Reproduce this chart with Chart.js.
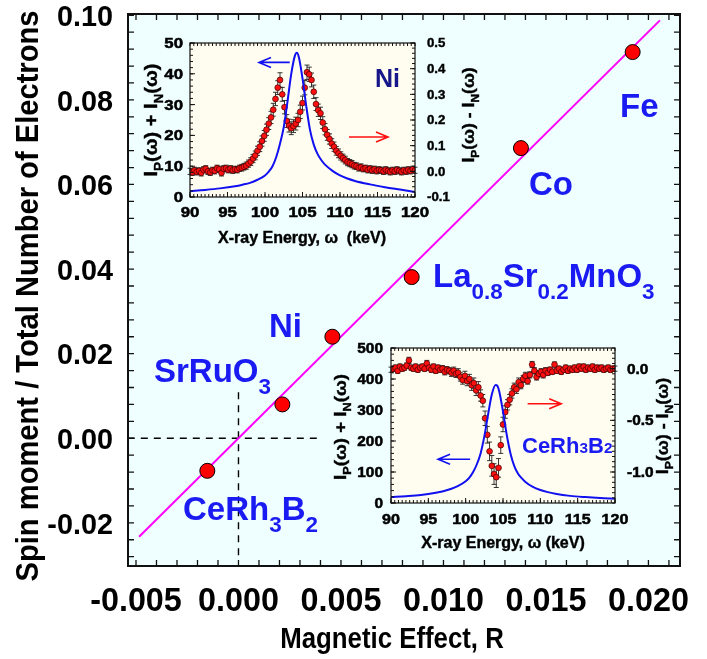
<!DOCTYPE html>
<html>
<head>
<meta charset="utf-8">
<title>Spin moment vs magnetic effect</title>
<script src="https://cdn.jsdelivr.net/npm/chart.js@4.4.1/dist/chart.umd.min.js"></script>
<style>
  html, body { margin: 0; padding: 0; background: #ffffff; }
  #stage { position: relative; width: 707px; height: 659px; overflow: hidden; }
  #stage canvas { position: absolute; }
</style>
</head>
<body>
<div id="stage">
  <canvas id="mainChart" width="707" height="659" style="left:0;top:0"></canvas>
  <canvas id="niChart" width="362" height="222" style="left:120px;top:30px"></canvas>
  <canvas id="ceChart" width="352" height="226" style="left:330px;top:335px"></canvas>
</div>
<script>
// ---- main plot data ----
const materials = ["CeRh3B2", "SrRuO3", "Ni", "La0.8Sr0.2MnO3", "Co", "Fe"];
const magneticEffect = [-0.00152, 0.00214, 0.00458, 0.00845, 0.01378, 0.01923];
const spinPerElectron = [-0.0077, 0.0080, 0.0240, 0.0381, 0.0686, 0.0913];
const fitR = [-0.00485, 0.02056];
const fitSpin = [-0.0233, 0.0988];
const zeroLineR = [-0.0054, 0.0040];
const zeroLineSpin = [0.0109, -0.0290];
const xTicks = [-0.005, 0, 0.005, 0.010, 0.015, 0.020];
const yTicks = [-0.02, 0, 0.02, 0.04, 0.06, 0.08, 0.10];

// ---- inset data (shared energy grid, keV) ----
const energyKeV = [
  90.0, 90.3, 90.6, 90.9, 91.2, 91.5, 91.8, 92.1, 92.4, 92.7,
  93.0, 93.3, 93.6, 93.9, 94.2, 94.5, 94.8, 95.1, 95.4, 95.7,
  96.0, 96.3, 96.6, 96.9, 97.2, 97.5, 97.8, 98.1, 98.4, 98.7,
  99.0, 99.3, 99.6, 99.9, 100.2, 100.5, 100.8, 101.1, 101.4, 101.7,
  102.0, 102.3, 102.6, 102.9, 103.2, 103.5, 103.8, 104.1, 104.4, 104.7,
  105.0, 105.3, 105.6, 105.9, 106.2, 106.5, 106.8, 107.1, 107.4, 107.7,
  108.0, 108.3, 108.6, 108.9, 109.2, 109.5, 109.8, 110.1, 110.4, 110.7,
  111.0, 111.3, 111.6, 111.9, 112.2, 112.5, 112.8, 113.1, 113.4, 113.7,
  114.0, 114.3, 114.6, 114.9, 115.2, 115.5, 115.8, 116.1, 116.4, 116.7,
  117.0, 117.3, 117.6, 117.9, 118.2, 118.5, 118.8, 119.1, 119.4, 119.7,
  120.0
];
// Ni: I_P - I_N (right axis)
const niDiff = [
  0.000, -0.004, 0.004, -0.002, 0.002, -0.006, 0.006, 0.010, 0.000, -0.004,
  0.004, 0.002, 0.012, 0.008, -0.006, 0.010, 0.012, 0.006, 0.010, 0.004,
  0.008, 0.006, 0.012, 0.014, 0.018, 0.022, 0.030, 0.038, 0.050, 0.062,
  0.080, 0.096, 0.118, 0.138, 0.162, 0.186, 0.210, 0.240, 0.282, 0.326,
  0.356, 0.300, 0.250, 0.196, 0.178, 0.168, 0.176, 0.186, 0.200, 0.232,
  0.266, 0.326, 0.386, 0.378, 0.356, 0.310, 0.262, 0.238, 0.226, 0.190,
  0.164, 0.142, 0.126, 0.108, 0.096, 0.080, 0.070, 0.060, 0.052, 0.044,
  0.036, 0.032, 0.028, 0.022, 0.020, 0.014, 0.016, 0.010, 0.012, 0.006,
  0.010, 0.004, 0.008, 0.002, 0.006, 0.004, 0.000, 0.006, 0.002, -0.002,
  0.004, 0.000, 0.006, 0.002, -0.002, 0.004, 0.000, 0.006, 0.002, 0.008,
  0.004
];
const niDiffErr = [
  0.012, 0.012, 0.012, 0.012, 0.012, 0.012, 0.012, 0.012, 0.012, 0.012,
  0.012, 0.012, 0.012, 0.012, 0.012, 0.012, 0.012, 0.012, 0.012, 0.012,
  0.012, 0.012, 0.012, 0.013, 0.013, 0.014, 0.014, 0.015, 0.016, 0.017,
  0.018, 0.019, 0.020, 0.021, 0.022, 0.023, 0.024, 0.025, 0.026, 0.027,
  0.028, 0.027, 0.026, 0.025, 0.025, 0.025, 0.025, 0.025, 0.026, 0.026,
  0.027, 0.028, 0.028, 0.028, 0.027, 0.026, 0.025, 0.024, 0.024, 0.023,
  0.022, 0.021, 0.020, 0.019, 0.018, 0.017, 0.017, 0.016, 0.015, 0.015,
  0.014, 0.014, 0.014, 0.013, 0.013, 0.013, 0.013, 0.012, 0.012, 0.012,
  0.012, 0.012, 0.012, 0.012, 0.012, 0.012, 0.012, 0.012, 0.012, 0.012,
  0.012, 0.012, 0.012, 0.012, 0.012, 0.012, 0.012, 0.012, 0.012, 0.012,
  0.012
];
// Ni: I_P + I_N (left axis), blue curve
const niSumKeV = [90, 92, 94, 96, 97, 98, 99, 100, 100.5, 101, 101.5, 102, 102.5, 103, 103.5, 104, 104.25, 104.5, 105, 105.5, 106, 106.5, 107, 107.5, 108, 109, 110, 111, 112, 114, 116, 118, 120];
const niSum = [1.9, 2.3, 2.8, 3.5, 4.0, 4.6, 5.6, 7.0, 8.2, 10.0, 13.0, 17.3, 22.7, 31.0, 40.0, 46.0, 46.8, 45.5, 38.5, 29.5, 21.8, 17.0, 14.0, 12.0, 10.5, 8.5, 7.0, 6.0, 5.2, 4.1, 3.2, 2.4, 1.6];

// CeRh3B2: I_P - I_N (right axis)
const ceDiff = [
  -0.01, 0.00, 0.01, -0.02, 0.02, 0.00, 0.01, 0.03, 0.08, 0.01,
  0.00, 0.02, -0.01, 0.01, 0.02, 0.00, 0.05, 0.01, -0.01, 0.02,
  -0.02, 0.01, -0.01, 0.00, -0.03, -0.01, -0.02, -0.04, -0.02, -0.05,
  -0.04, -0.08, -0.11, -0.07, -0.12, -0.10, -0.16, -0.14, -0.21, -0.18,
  -0.26, -0.31, -0.48, -0.64, -0.80, -0.94, -1.02, -1.05, -0.96, -0.74,
  -0.54, -0.42, -0.35, -0.30, -0.24, -0.18, -0.20, -0.13, -0.16, -0.10,
  -0.07, -0.12, -0.06, 0.04, -0.02, -0.08, -0.05, -0.03, -0.06, -0.02,
  -0.04, -0.01, -0.03, 0.04, -0.02, 0.00, -0.03, -0.01, 0.01, -0.02,
  0.00, -0.01, 0.01, -0.01, 0.02, 0.00, 0.02, -0.01, 0.01, 0.00,
  0.02, -0.01, 0.01, 0.00, 0.01, -0.01, 0.00, 0.01, -0.01, 0.00,
  0.00
];
const ceDiffErr = [
  0.025, 0.025, 0.025, 0.025, 0.025, 0.025, 0.025, 0.025, 0.030, 0.025,
  0.025, 0.025, 0.025, 0.025, 0.025, 0.025, 0.030, 0.025, 0.025, 0.025,
  0.025, 0.025, 0.025, 0.030, 0.030, 0.030, 0.030, 0.035, 0.035, 0.035,
  0.040, 0.040, 0.040, 0.045, 0.045, 0.045, 0.050, 0.050, 0.050, 0.055,
  0.055, 0.060, 0.070, 0.080, 0.090, 0.100, 0.100, 0.100, 0.090, 0.080,
  0.070, 0.060, 0.050, 0.050, 0.045, 0.040, 0.040, 0.040, 0.035, 0.035,
  0.035, 0.030, 0.030, 0.030, 0.030, 0.030, 0.030, 0.030, 0.030, 0.030,
  0.025, 0.025, 0.025, 0.025, 0.025, 0.025, 0.025, 0.025, 0.025, 0.025,
  0.025, 0.025, 0.025, 0.025, 0.025, 0.025, 0.025, 0.025, 0.025, 0.025,
  0.025, 0.025, 0.025, 0.025, 0.025, 0.025, 0.025, 0.025, 0.025, 0.025,
  0.025
];
const ceSumKeV = [90, 92, 94, 96, 97, 98, 99, 100, 100.5, 101, 101.5, 102, 102.5, 103, 103.5, 104, 104.25, 104.5, 105, 105.5, 106, 106.5, 107, 107.5, 108, 109, 110, 111, 112, 114, 116, 118, 120];
const ceSum = [19, 22, 26, 33, 38, 45, 55, 70, 82, 100, 125, 160, 215, 285, 350, 381, 378, 360, 295, 220, 160, 120, 95, 80, 68, 52, 42, 35, 30, 23, 19, 16, 14];

const keVTicks = [90, 95, 100, 105, 110, 115, 120];
const niSumTicks = [0, 10, 20, 30, 40, 50];
const niDiffTicks = [-0.1, 0.0, 0.1, 0.2, 0.3, 0.4, 0.5];
const ceSumTicks = [0, 100, 200, 300, 400, 500];
const ceDiffTicks = [0.0, -0.5, -1.0];

const FONT = "'Liberation Sans', Arial, Helvetica, sans-serif";
const LABEL_BLUE = "#1a1af2";
const CURVE_BLUE = "#1010f0";

// minor tick positions for the frame marks
function steps(a, b, st) {
  const out = [];
  for (let v = a; v <= b + st / 2; v += st) out.push(+v.toFixed(6));
  return out;
}

function drawRich(ctx, t) {
  const size = t.size, sx = t.sx || 1;
  const parts = typeof t.text === "string" ? [[t.text, 1, 0]] : t.text;
  let w = 0;
  for (const p of parts) { ctx.font = "bold " + size * p[1] + "px " + FONT; w += ctx.measureText(p[0]).width; }
  ctx.save();
  ctx.translate(t.x, t.y);
  if (t.rotate) ctx.rotate(t.rotate * Math.PI / 180);
  ctx.scale(sx, 1);
  let cx = t.align === "center" ? -w / 2 : t.align === "right" ? -w : 0;
  const dy = t.middle ? size * 0.36 : 0;
  ctx.fillStyle = t.color || "#000";
  ctx.strokeStyle = t.color || "#000";
  ctx.lineWidth = t.heavy || 0;
  ctx.textAlign = "left";
  ctx.textBaseline = "alphabetic";
  for (const p of parts) {
    ctx.font = "bold " + size * p[1] + "px " + FONT;
    ctx.fillText(p[0], cx, dy + (p[2] || 0) * size);
    if (t.heavy) ctx.strokeText(p[0], cx, dy + (p[2] || 0) * size);
    cx += ctx.measureText(p[0]).width;
  }
  ctx.restore();
}

const decor = {
  id: "decor",
  beforeDatasetsDraw(chart, args, o) {
    const { ctx, chartArea: a } = chart;
    ctx.save();
    ctx.fillStyle = o.bg;
    ctx.fillRect(a.left, a.top, a.right - a.left, a.bottom - a.top);
    chart.data.datasets.forEach((ds) => {
      if (!ds.errors) return;
      const xs = chart.scales.x, ys = chart.scales[ds.yAxisID];
      ctx.strokeStyle = "#202020";
      ctx.lineWidth = 0.9;
      ctx.beginPath();
      ds.data.forEach((p, i) => {
        const px = xs.getPixelForValue(p.x);
        const top = ys.getPixelForValue(p.y + ds.errors[i]);
        const bot = ys.getPixelForValue(p.y - ds.errors[i]);
        ctx.moveTo(px, top); ctx.lineTo(px, bot);
        ctx.moveTo(px - 2.5, top); ctx.lineTo(px + 2.5, top);
        ctx.moveTo(px - 2.5, bot); ctx.lineTo(px + 2.5, bot);
      });
      ctx.stroke();
    });
    ctx.restore();
  },
  afterDatasetsDraw(chart, args, o) {
    const { ctx, chartArea: a } = chart;
    ctx.save();
    ctx.strokeStyle = "#111";
    ctx.lineWidth = o.tickWidth;
    for (const m of o.marks) {
      const s = chart.scales[m.scale];
      ctx.beginPath();
      for (const v of m.values) {
        const p = s.getPixelForValue(v);
        if (m.side === "bottom") { ctx.moveTo(p, a.bottom); ctx.lineTo(p, a.bottom - m.len); }
        if (m.side === "top") { ctx.moveTo(p, a.top); ctx.lineTo(p, a.top + m.len); }
        if (m.side === "left") { ctx.moveTo(a.left, p); ctx.lineTo(a.left + m.len, p); }
        if (m.side === "right") { ctx.moveTo(a.right, p); ctx.lineTo(a.right - m.len, p); }
      }
      ctx.stroke();
    }
    ctx.lineWidth = o.frameWidth;
    ctx.strokeRect(a.left, a.top, a.right - a.left, a.bottom - a.top);

    for (const ar of o.arrows || []) {
      const xs = chart.scales.x, ys = chart.scales[ar.scale];
      const x1 = xs.getPixelForValue(ar.from), x2 = xs.getPixelForValue(ar.to);
      const y = ys.getPixelForValue(ar.at);
      const dir = x2 > x1 ? 1 : -1;
      ctx.strokeStyle = ar.color;
      ctx.lineWidth = 1.6;
      ctx.beginPath();
      ctx.moveTo(x1, y); ctx.lineTo(x2, y);
      ctx.moveTo(x2 - dir * 12, y - 5); ctx.lineTo(x2, y); ctx.lineTo(x2 - dir * 12, y + 5);
      ctx.stroke();
    }

    for (const tt of o.tickText) {
      const s = chart.scales[tt.scale];
      for (const tk of s.ticks) {
        const v = Math.abs(tk.value) < 1e-12 ? 0 : tk.value;
        const p = s.getPixelForValue(v);
        const label = v.toFixed(tt.digits);
        const base = { text: label, size: tt.size, sx: tt.sx, heavy: tt.heavy };
        if (tt.side === "bottom") drawRich(ctx, Object.assign(base, { x: p, y: a.bottom + tt.off, align: "center" }));
        if (tt.side === "left") drawRich(ctx, Object.assign(base, { x: a.left - tt.off, y: p, align: "right", middle: true }));
        if (tt.side === "right") drawRich(ctx, Object.assign(base, { x: a.right + tt.off, y: p, align: "left", middle: true }));
      }
    }
    for (const t of o.texts) drawRich(ctx, t);
    ctx.restore();
  }
};

function fixedTicks(values) {
  return (s) => { s.ticks = values.map((v) => ({ value: v })); };
}
function hiddenAxis(extra) {
  return Object.assign({
    type: "linear",
    grid: { display: false, drawTicks: false },
    border: { display: false },
    ticks: { display: false }
  }, extra);
}
const xy = (xs, ys) => xs.map((x, i) => ({ x: x, y: ys[i] }));

// ---------------- main chart ----------------
new Chart(document.getElementById("mainChart"), {
  type: "scatter",
  data: {
    datasets: [
      {
        label: "Samples",
        data: xy(magneticEffect, spinPerElectron),
        pointRadius: 7.5,
        pointBackgroundColor: "#ff0000",
        pointBorderColor: "#000000",
        pointBorderWidth: 1
      },
      {
        label: "Linear fit",
        data: xy(fitR, fitSpin),
        showLine: true,
        borderColor: "#ff00ff",
        borderWidth: 2,
        pointRadius: 0
      },
      {
        label: "Zero spin",
        data: xy(zeroLineR, [0, 0]),
        showLine: true,
        borderColor: "#000000",
        borderWidth: 1.4,
        borderDash: [7, 6],
        pointRadius: 0
      },
      {
        label: "Zero R",
        data: xy([0, 0], zeroLineSpin),
        showLine: true,
        borderColor: "#000000",
        borderWidth: 1.4,
        borderDash: [7, 6],
        pointRadius: 0
      }
    ]
  },
  options: {
    responsive: false,
    animation: false,
    events: [],
    layout: { padding: { top: 14, right: 27, left: 0, bottom: 0 } },
    scales: {
      x: hiddenAxis({ min: -0.00539, max: 0.02154, afterFit: (s) => { s.height = 93; }, afterBuildTicks: fixedTicks(xTicks) }),
      y: hiddenAxis({ min: -0.0302, max: 0.1003, afterFit: (s) => { s.width = 128; }, afterBuildTicks: fixedTicks(yTicks) })
    },
    plugins: {
      legend: { display: false },
      tooltip: { enabled: false },
      decor: {
        bg: "#effefe",
        frameWidth: 2,
        tickWidth: 1.3,
        marks: [
          { scale: "x", side: "bottom", values: steps(-0.005, 0.021, 0.001), len: 6 },
          { scale: "x", side: "top", values: steps(-0.005, 0.021, 0.001), len: 6 },
          { scale: "y", side: "left", values: steps(-0.028, 0.1, 0.004), len: 6 },
          { scale: "y", side: "right", values: steps(-0.028, 0.1, 0.004), len: 6 }
        ],
        tickText: [
          { scale: "x", side: "bottom", digits: 3, size: 34, sx: 0.95, off: 45 },
          { scale: "y", side: "left", digits: 2, size: 30, sx: 0.96, off: 15 }
        ],
        texts: [
          { text: "Magnetic Effect, R", x: 392, y: 648, size: 30, sx: 0.86, align: "center" },
          { text: "Spin moment / Total Number of Electrons", x: 27, y: 296, size: 31, sx: 0.94, align: "center", rotate: -90, middle: true },
          { text: "Fe", x: 620, y: 117, size: 33, color: LABEL_BLUE },
          { text: "Co", x: 529, y: 195, size: 33, color: LABEL_BLUE },
          { text: [["La", 1, 0], ["0.8", 0.68, 0.35], ["Sr", 1, 0], ["0.2", 0.68, 0.35], ["MnO", 1, 0], ["3", 0.68, 0.35]], x: 433, y: 287, size: 33, color: LABEL_BLUE },
          { text: "Ni", x: 269, y: 337, size: 33, color: LABEL_BLUE },
          { text: [["SrRuO", 1, 0], ["3", 0.68, 0.35]], x: 154, y: 382, size: 33, color: LABEL_BLUE },
          { text: [["CeRh", 1, 0], ["3", 0.68, 0.35], ["B", 1, 0], ["2", 0.68, 0.35]], x: 183, y: 520, size: 33, color: LABEL_BLUE }
        ]
      }
    }
  },
  plugins: [decor]
});

// ---------------- insets ----------------
function insetChart(id, cfg) {
  return new Chart(document.getElementById(id), {
    type: "scatter",
    data: {
      datasets: [
        {
          label: "I_P + I_N",
          data: xy(cfg.sumKeV, cfg.sum),
          yAxisID: "yL",
          showLine: true,
          borderColor: CURVE_BLUE,
          borderWidth: 2,
          pointRadius: 0,
          cubicInterpolationMode: "monotone"
        },
        {
          label: "I_P - I_N",
          data: xy(energyKeV, cfg.diff),
          errors: cfg.err,
          yAxisID: "yR",
          pointRadius: 2.9,
          pointBackgroundColor: "#ff1010",
          pointBorderColor: "#3a0000",
          pointBorderWidth: 0.7
        }
      ]
    },
    options: {
      responsive: false,
      animation: false,
      events: [],
      layout: { padding: { top: 13, right: 0, left: 0, bottom: 0 } },
      scales: {
        x: hiddenAxis({ min: 90, max: 120, afterFit: (s) => { s.height = cfg.bottomH; }, afterBuildTicks: fixedTicks(keVTicks) }),
        yL: hiddenAxis({ position: "left", min: cfg.sumRange[0], max: cfg.sumRange[1], afterFit: (s) => { s.width = cfg.leftW; }, afterBuildTicks: fixedTicks(cfg.sumTicks) }),
        yR: hiddenAxis({ position: "right", min: cfg.diffRange[0], max: cfg.diffRange[1], afterFit: (s) => { s.width = cfg.rightW; }, afterBuildTicks: fixedTicks(cfg.diffTicks) })
      },
      plugins: {
        legend: { display: false },
        tooltip: { enabled: false },
        decor: {
          bg: "#fffdf0",
          frameWidth: 1.2,
          tickWidth: 1,
          marks: cfg.marks,
          arrows: cfg.arrows,
          tickText: cfg.tickText,
          texts: cfg.texts
        }
      }
    },
    plugins: [decor]
  });
}

const ipSum = [["I", 1, 0], ["P", 0.68, 0.3], ["(\u03c9) + I", 1, 0], ["N", 0.68, 0.3], ["(\u03c9)", 1, 0]];
const ipDiff = [["I", 1, 0], ["P", 0.68, 0.3], ["(\u03c9) - I", 1, 0], ["N", 0.68, 0.3], ["(\u03c9)", 1, 0]];

insetChart("niChart", {
  sumKeV: niSumKeV, sum: niSum, diff: niDiff, err: niDiffErr,
  sumRange: [0, 50], diffRange: [-0.1, 0.5], sumTicks: niSumTicks, diffTicks: niDiffTicks,
  bottomH: 55, leftW: 70, rightW: 67,
  marks: [
    { scale: "x", side: "bottom", values: steps(90, 120, 0.5), len: 3 },
    { scale: "x", side: "top", values: steps(90, 120, 0.5), len: 3 },
    { scale: "x", side: "bottom", values: keVTicks, len: 5 },
    { scale: "yL", side: "left", values: steps(0, 50, 2), len: 3 },
    { scale: "yL", side: "left", values: niSumTicks, len: 5 },
    { scale: "yR", side: "right", values: steps(-0.1, 0.5, 0.02), len: 3 },
    { scale: "yR", side: "right", values: niDiffTicks, len: 5 }
  ],
  arrows: [
    { scale: "yL", from: 103.3, to: 99.2, at: 43.7, color: "#1010f0" },
    { scale: "yL", from: 111.2, to: 116.4, at: 19.5, color: "#ff1010" }
  ],
  tickText: [
    { scale: "x", side: "bottom", digits: 0, size: 14, sx: 1.2, off: 20, heavy: 0.5 },
    { scale: "yL", side: "left", digits: 0, size: 14, sx: 1.2, off: 7, heavy: 0.5 },
    { scale: "yR", side: "right", digits: 1, size: 12, sx: 1.1, off: 12, heavy: 0.4 }
  ],
  texts: [
    { text: "X-ray Energy, \u03c9  (keV)", x: 182, y: 213, size: 16, align: "center", heavy: 0.4 },
    { text: ipSum, x: 30, y: 90, size: 19, sx: 1.05, align: "center", rotate: -90, middle: true, heavy: 0.4 },
    { text: ipDiff, x: 348, y: 85, size: 16, sx: 1.1, align: "center", rotate: -90, middle: true, heavy: 0.4 },
    { text: "Ni", x: 255, y: 57, size: 25, color: "#16168a" }
  ]
});

insetChart("ceChart", {
  sumKeV: ceSumKeV, sum: ceSum, diff: ceDiff, err: ceDiffErr,
  sumRange: [0, 500], diffRange: [-1.3, 0.2], sumTicks: ceSumTicks, diffTicks: ceDiffTicks,
  bottomH: 58, leftW: 61, rightW: 67,
  marks: [
    { scale: "x", side: "bottom", values: steps(90, 120, 0.5), len: 3 },
    { scale: "x", side: "top", values: steps(90, 120, 0.5), len: 3 },
    { scale: "x", side: "bottom", values: keVTicks, len: 5 },
    { scale: "yL", side: "left", values: steps(0, 500, 20), len: 3 },
    { scale: "yL", side: "left", values: ceSumTicks, len: 5 },
    { scale: "yR", side: "right", values: steps(-1.3, 0.2, 0.05), len: 3 },
    { scale: "yR", side: "right", values: [-1.0, -0.5, 0.0], len: 5 }
  ],
  arrows: [
    { scale: "yL", from: 100.6, to: 96.3, at: 141, color: "#1010f0" },
    { scale: "yL", from: 108.3, to: 112.8, at: 320, color: "#ff1010" }
  ],
  tickText: [
    { scale: "x", side: "bottom", digits: 0, size: 14, sx: 1.15, off: 21, heavy: 0.5 },
    { scale: "yL", side: "left", digits: 0, size: 14, sx: 1.1, off: 8, heavy: 0.5 },
    { scale: "yR", side: "right", digits: 1, size: 14, sx: 1.1, off: 12, heavy: 0.5 }
  ],
  texts: [
    { text: "X-ray Energy, \u03c9 (keV)", x: 173, y: 213, size: 16, align: "center", heavy: 0.4 },
    { text: ipSum, x: 10, y: 92, size: 17, sx: 1.1, align: "center", rotate: -90, middle: true, heavy: 0.4 },
    { text: ipDiff, x: 332, y: 91, size: 17, sx: 1.05, align: "center", rotate: -90, middle: true, heavy: 0.4 },
    { text: [["CeRh", 1, 0], ["3", 0.7, 0], ["B", 1, 0], ["2", 0.7, 0]], x: 192, y: 118, size: 22, color: LABEL_BLUE }
  ]
});
</script>
</body>
</html>
